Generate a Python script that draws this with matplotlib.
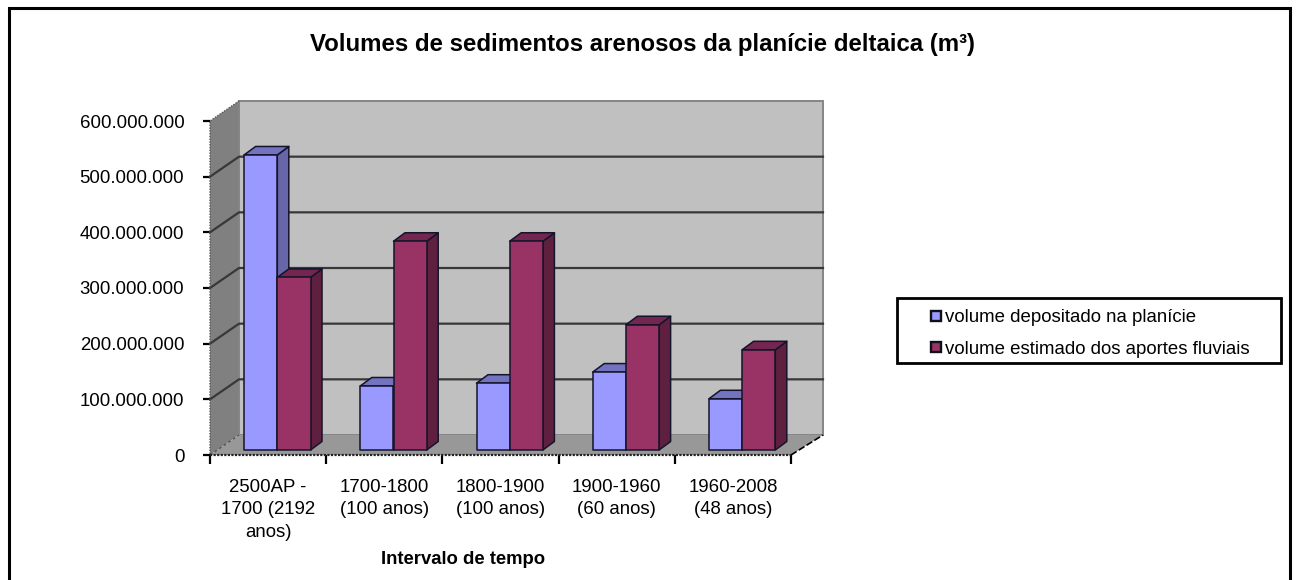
import matplotlib
matplotlib.use("Agg")
import matplotlib.pyplot as plt
from matplotlib.patches import Polygon, Rectangle

plt.rcParams['font.family'] = ['Liberation Sans', 'DejaVu Sans']

TITLE = "Volumes de sedimentos arenosos da planície deltaica (m³)"
XLABEL = "Intervalo de tempo"
categories = ["2500AP -\n1700 (2192\nanos)", "1700-1800\n(100 anos)", "1800-1900\n(100 anos)",
              "1900-1960\n(60 anos)", "1960-2008\n(48 anos)"]
deposited = [530e6, 115e6, 120e6, 140e6, 92e6]
fluvial = [310e6, 375e6, 375e6, 225e6, 180e6]
y_ticks = [0, 100e6, 200e6, 300e6, 400e6, 500e6, 600e6]
y_labels = ["0", "100.000.000", "200.000.000", "300.000.000", "400.000.000", "500.000.000", "600.000.000"]
series_names = ["volume depositado na planície", "volume estimado dos aportes fluviais"]

W, H = 1298, 580
fig = plt.figure(figsize=(W/100, H/100), dpi=100, facecolor='white')
fig.add_artist(Rectangle((9/W, -0.01), (1290-9)/W, 1.01-8/H, transform=fig.transFigure,
                         fc='white', ec='black', lw=2.2, zorder=-5))

# axes = front plane of the 3-D box
L, R, T, B = 210, 791, 121, 455
ax = fig.add_axes([L/W, 1-B/H, (R-L)/W, (B-T)/H])
ax.set_xlim(0, 5)
ax.set_ylim(0, 600e6)
ax.patch.set_visible(False)
for s in ax.spines.values():
    s.set_visible(False)

DX = 29/(R-L)*5          # box depth in category units
DY = 20/(B-T)*600e6      # box depth in value units
XR = 5 + 32/(R-L)*5      # right edge of the back wall
WALL, SIDE, FLOOR = '#C0C0C0', '#808080', '#989898'
GRID = '#383838'

ax.add_patch(Polygon([(0, 0), (DX, DY), (DX, 600e6+DY), (0, 600e6)], fc=SIDE, ec='none', clip_on=False, zorder=1))
ax.add_patch(Rectangle((DX, DY), XR-DX, 600e6, fc=WALL, ec='#858585', lw=1.4, clip_on=False, zorder=1))
ax.add_patch(Polygon([(0, 0), (5, 0), (XR, DY), (DX, DY)], fc=FLOOR, ec='none', clip_on=False, zorder=1))
for v in y_ticks[1:6]:
    ax.plot([0, DX, XR], [v, v+DY, v+DY], color=GRID, lw=1.6, clip_on=False, zorder=2)
ax.plot([DX, 0, 0], [600e6+DY, 600e6, 0], color='#555555', lw=1, ls=(0, (1, 1)), clip_on=False, zorder=2)
ax.plot([0, DX], [0, DY], color='#555555', lw=1, ls=(0, (2, 2)), clip_on=False, zorder=2)
ax.plot([5, XR], [0, DY], color='black', lw=1.2, ls=(0, (4, 1.5)), clip_on=False, zorder=2)
ax.plot([0, 5], [0, 0], color='#222222', lw=1.6, ls=(0, (1, 0.6)), clip_on=False, zorder=2)

# bars
BW = 33.2/(R-L)*5
DEP_X = 11.5/(R-L)*5
DEP_Y = 8.5/(B-T)*600e6
SHIFT_X = 9.2/(R-L)*5
SHIFT_Y = 5/(B-T)*600e6

def bar(x, v, front, top, side, z):
    y0 = SHIFT_Y
    y1 = SHIFT_Y + v
    kw = dict(ec='#14142a', lw=1.1, clip_on=False, zorder=z, joinstyle='round')
    ax.add_patch(Polygon([(x+BW, y0), (x+BW+DEP_X, y0+DEP_Y), (x+BW+DEP_X, y1+DEP_Y), (x+BW, y1)], fc=side, **kw))
    ax.add_patch(Polygon([(x, y1), (x+DEP_X, y1+DEP_Y), (x+BW+DEP_X, y1+DEP_Y), (x+BW, y1)], fc=top, **kw))
    ax.add_patch(Rectangle((x, y0), BW, v, fc=front, **kw))

for i, (a, b) in enumerate(zip(deposited, fluvial)):
    c = i + 0.5 + SHIFT_X
    bar(c-BW, a, '#9999FF', '#7373BF', '#6666A8', 3+i*2)
    bar(c, b, '#993366', '#732650', '#5F2040', 4+i*2)

ax.set_xticks(range(6))
ax.set_xticklabels([])
ax.set_yticks(y_ticks)
ax.set_yticklabels(y_labels, fontsize=13.4)
ax.tick_params(axis='both', length=6.5, width=1.6, color='black', pad=5)
ax.tick_params(axis='y', length=5, pad=13.5)
for i, c in enumerate(categories):
    ax.annotate(c, (i+0.5, 0), xytext=(0, -17), textcoords='offset points', ha='center', va='top',
                fontsize=13.4, linespacing=1.45)
ax.annotate(XLABEL, (2.18, 0), xytext=(0, -75.5), textcoords='offset points', ha='center', va='center',
            fontsize=13.3, fontweight='bold')
fig.text(642/W, 1-45/H, TITLE, ha='center', va='center', fontsize=17.3, fontweight='bold')

# legend
fig.add_artist(Rectangle((897/W, 1-363/H), (1281-897)/W, 65/H, transform=fig.transFigure,
                         fc='white', ec='black', lw=2))
for k, (name, col, yy, ty) in enumerate(zip(series_names, ['#9999FF', '#993366'], [316, 347], [317, 349])):
    fig.add_artist(Rectangle((931/W, 1-(yy+5)/H), 10/W, 10/H, transform=fig.transFigure,
                             fc=col, ec='#101018', lw=1.7))
    fig.text(945/W, 1-ty/H, name, ha='left', va='center', fontsize=13.4)

fig.savefig('out.png', dpi=100)
